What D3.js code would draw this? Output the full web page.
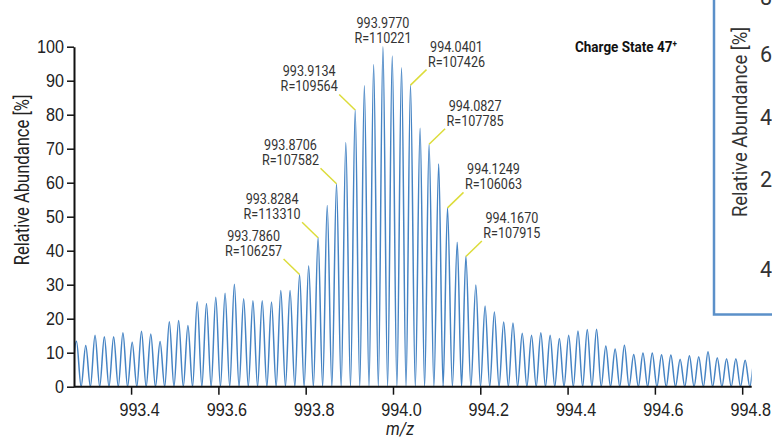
<!DOCTYPE html>
<html><head><meta charset="utf-8">
<script src="https://cdn.jsdelivr.net/npm/d3@7"></script>
<style>
body{margin:0;background:#fff;}
svg{display:block;font-family:Roboto,"Liberation Sans",sans-serif;}
</style></head><body>
<svg id="c" width="772" height="439"></svg>
<script>
// isotope peak centroids (m/z)
const peakMz = [993.2749,993.2961,993.3174,993.3387,993.3600,993.3813,993.4025,993.4238,993.4451,993.4664,
993.4876,993.5089,993.5302,993.5515,993.5727,993.5940,993.6153,993.6366,993.6579,993.6791,
993.7004,993.7217,993.7430,993.7642,993.7860,993.8068,993.8284,993.8493,993.8706,993.8919,
993.9134,993.9344,993.9557,993.9770,993.9983,994.0196,994.0401,994.0621,994.0827,994.1047,
994.1249,994.1472,994.1670,994.1898,994.2110,994.2323,994.2536,994.2749,994.2961,994.3174,
994.3387,994.3600,994.3812,994.4025,994.4238,994.4451,994.4664,994.4876,994.5089,994.5302,
994.5515,994.5727,994.5940,994.6153,994.6366,994.6578,994.6791,994.7004,994.7217,994.7429,
994.7642,994.7855,994.8068,994.8281];
// relative abundance [%] of each peak
const peakAbundance = [13.4,12.1,15.1,14.7,14.7,15.9,13.1,16.3,15.5,13.3,
19.1,19.5,18.0,25.0,24.5,26.3,27.5,30.1,25.9,25.3,
25.3,24.9,28.3,28.3,33.0,35.6,43.8,53.3,59.7,71.8,
81.4,88.5,94.8,100,97.3,93.8,88.7,76.0,71.3,65.5,
52.6,42.5,38.3,29.9,23.7,22.0,19.0,18.7,15.7,15.1,
15.9,15.1,14.2,15.1,16.4,16.8,16.9,12.0,11.1,12.2,
9.5,9.9,9.9,9.4,9.3,8.1,9.1,8.8,10.3,8.5,
8.2,8.2,7.8,8.0];
// annotated peaks
const annotMz = [993.7860,993.8284,993.8706,993.9134,993.9770,994.0401,994.0827,994.1249,994.1670];
const annotRes = ["106257","113310","107582","109564","110221","107426","107785","106063","107915"];
const annotSide = ["left","left","left","left","top","right","right","right","right"];
const xTicks = [993.4,993.6,993.8,994.0,994.2,994.4,994.6,994.8];
const yTicks = [0,10,20,30,40,50,60,70,80,90,100];
const insetLabels = ["80","60","40","20","4"];

const svg = d3.select("#c");
const x = d3.scaleLinear().domain([993.2692, 994.8218]).range([74, 751.7]);
const y = d3.scaleLinear().domain([0, 100]).range([386.7, 46.7]);
const SX = 0.84; // horizontal condensing to mimic condensed face

function label(px, py, str, size, opts={}) {
  const t = svg.append("text")
    .attr("transform", `translate(${px},${py})${opts.rot?` rotate(${opts.rot})`:""} scale(${opts.sx||SX},1)`)
    .attr("text-anchor", opts.anchor || "middle")
    .attr("font-size", size)
    .attr("fill", opts.fill || "#333")
    .text(str);
  if (opts.weight) t.attr("font-weight", opts.weight);
  if (opts.italic) t.attr("font-style", "italic");
  return t;
}

// inset frame (partially visible on the right)
svg.append("rect").attr("x",714).attr("y",-10).attr("width",120).attr("height",324.5)
  .attr("fill","#fff").attr("stroke","#5b90c9").attr("stroke-width",2.5);
label(747, 122, "Relative Abundance [%]", 21, {rot:-90, sx:0.88});
const insetY = [5,62,125,187,277];
insetLabels.forEach((t,i)=> label(760, insetY[i], t, 21.5, {anchor:"start", sx:1.0}));

// trace
const pts = [];
peakMz.forEach((m,i)=>{
  const prev = i>0 ? peakMz[i-1] : m-(peakMz[1]-peakMz[0]);
  pts.push([(prev+m)/2, 0]);
  pts.push([m, peakAbundance[i]]);
});
const n = peakMz.length;
pts.push([peakMz[n-1] + (peakMz[n-1]-peakMz[n-2])/2, 0]);

svg.append("clipPath").attr("id","clip").append("rect")
  .attr("x",74).attr("y",0).attr("width",751.7-74).attr("height",390);
svg.append("path").datum(pts).attr("clip-path","url(#clip)")
  .attr("fill","none").attr("stroke","#4684c4").attr("stroke-width",1.5)
  .attr("d", d3.line().x(d=>x(d[0])).y(d=>y(d[1])).curve(d3.curveMonotoneX));

// axes
const TS = 0.85;
const gx = svg.append("g").attr("transform",`translate(0,${y(0)})`)
  .call(d3.axisBottom(x).tickValues(xTicks).tickSize(8).tickSizeOuter(0).tickFormat(d3.format(".1f")));
gx.select(".domain").attr("stroke","#111").attr("stroke-width",2).attr("d",`M74,0H751.7`);
gx.selectAll(".tick line").attr("stroke","#111").attr("stroke-width",1.5);
gx.selectAll(".tick text").attr("font-size",19).attr("fill","#222").attr("font-family","inherit")
  .attr("transform",`scale(${TS},1)`).attr("x",8/TS).attr("dy",0).attr("y",29.5);

const gy = svg.append("g").attr("transform",`translate(74,0)`)
  .call(d3.axisLeft(y).tickValues(yTicks).tickSize(7).tickSizeOuter(0));
gy.select(".domain").attr("stroke","#111").attr("stroke-width",2);
gy.selectAll(".tick line").attr("stroke","#111").attr("stroke-width",1.5);
gy.selectAll(".tick text").attr("font-size",19).attr("fill","#222").attr("font-family","inherit")
  .attr("transform",`scale(${TS},1)`).attr("x",-10/TS);

label(400, 435, "m/z", 19, {italic:true, fill:"#222", sx:TS});
label(29, 180, "Relative Abundance [%]", 19.5, {rot:-90, fill:"#222", sx:0.85});

// annotations
annotMz.forEach((m,i)=>{
  const idx = peakMz.indexOf(m);
  const px = x(m), py = y(peakAbundance[idx]);
  const side = annotSide[i];
  let tx, l1, l2;
  if (side==="top") { tx = px; l1 = py-18.4; l2 = py-3.5; }
  else {
    const s = side==="left" ? -1 : 1;
    svg.append("line").attr("x1",px).attr("y1",py).attr("x2",px+s*16).attr("y2",py-15.5)
      .attr("stroke","#dcdc3a").attr("stroke-width",1.5);
    tx = px + s*46; l1 = py-33.5; l2 = py-18.5;
  }
  label(tx, l1, m.toFixed(4), 15);
  label(tx, l2, "R=" + annotRes[i], 15);
});

// charge state
const cs = svg.append("text").attr("transform","translate(575,51.7) scale(0.9,1)")
  .attr("font-size",15).attr("font-weight","bold").attr("fill","#111");
cs.append("tspan").text("Charge State 47");
cs.append("tspan").attr("font-size",9).attr("dy",-5).text("+");
</script>
</body></html>
